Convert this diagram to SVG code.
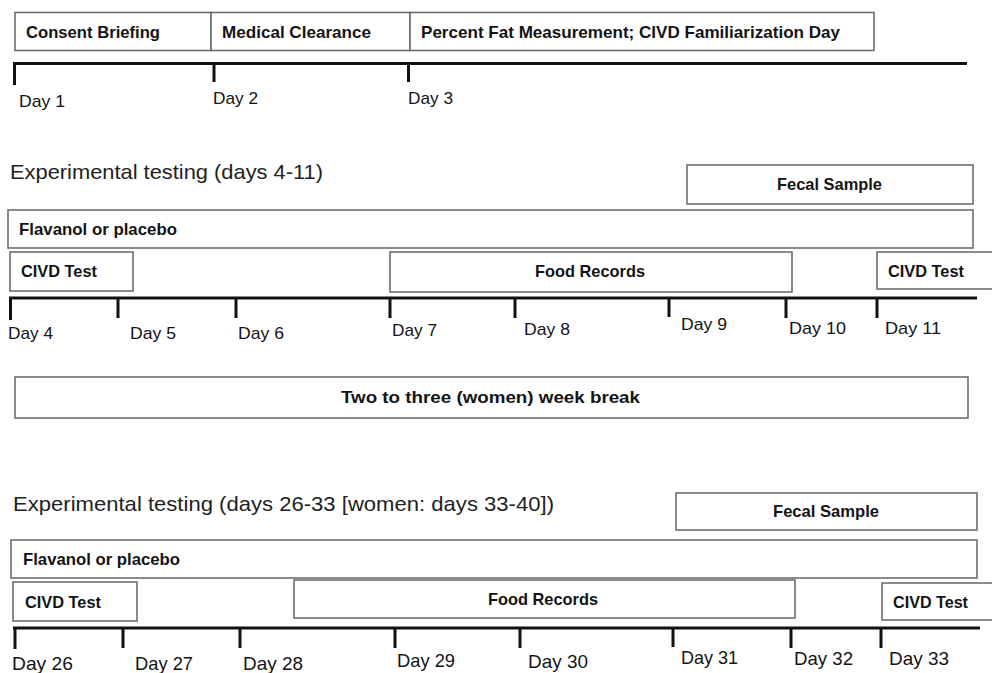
<svg xmlns="http://www.w3.org/2000/svg" width="992" height="673" viewBox="0 0 992 673">
<style>
  .box{fill:#fff;stroke:#6e6e6e;stroke-width:1.6}
  .lbl{font-family:"Liberation Sans",Arial,sans-serif;font-weight:bold;font-size:17px;fill:#141414}
  .day{font-family:"Liberation Sans",Arial,sans-serif;font-size:17px;fill:#141414}
  .day3{font-family:"Liberation Sans",Arial,sans-serif;font-size:19px;fill:#141414}
  .head{font-family:"Liberation Sans",Arial,sans-serif;font-size:21px;fill:#222}
  .axis{stroke:#111;stroke-width:3.2;fill:none}
  .tick{stroke:#111;stroke-width:3;fill:none}
</style>
<rect x="0" y="0" width="992" height="673" fill="#fff"/>

<!-- Section 1 -->
<g id="consent-briefing"><rect class="box" x="15" y="12.5" width="196" height="38"/><text class="lbl" x="26" y="38" textLength="134" lengthAdjust="spacingAndGlyphs">Consent Briefing</text></g>
<g id="medical-clearance"><rect class="box" x="211" y="12.5" width="199" height="38"/><text class="lbl" x="222" y="38" textLength="149" lengthAdjust="spacingAndGlyphs">Medical Clearance</text></g>
<g id="percent-fat"><rect class="box" x="410" y="12.5" width="464" height="38"/><text class="lbl" x="421" y="38" textLength="419" lengthAdjust="spacingAndGlyphs">Percent Fat Measurement; CIVD Familiarization Day</text></g>

<!-- Section 2 -->
<g id="heading-1"><text class="head" x="10" y="179" textLength="313" lengthAdjust="spacingAndGlyphs">Experimental testing (days 4-11)</text></g>
<g id="fecal-1"><rect class="box" x="687" y="165" width="286" height="39"/><text class="lbl" x="777" y="190" textLength="105" lengthAdjust="spacingAndGlyphs">Fecal Sample</text></g>
<g id="flavanol-1"><rect class="box" x="8" y="210" width="965" height="38"/><text class="lbl" x="19" y="235" textLength="158" lengthAdjust="spacingAndGlyphs">Flavanol or placebo</text></g>
<g id="civd-1a"><rect class="box" x="10" y="252" width="123" height="39"/><text class="lbl" x="21" y="277" textLength="76" lengthAdjust="spacingAndGlyphs">CIVD Test</text></g>
<g id="food-1"><rect class="box" x="390" y="252" width="402" height="40"/><text class="lbl" x="535" y="277" textLength="110" lengthAdjust="spacingAndGlyphs">Food Records</text></g>
<g id="civd-1b"><rect class="box" x="877" y="252" width="120" height="37"/><text class="lbl" x="888" y="277" textLength="76" lengthAdjust="spacingAndGlyphs">CIVD Test</text></g>

<!-- Break -->
<g id="break"><rect class="box" x="15" y="377" width="953" height="41"/><text class="lbl" x="341" y="403" textLength="299" lengthAdjust="spacingAndGlyphs">Two to three (women) week break</text></g>

<!-- Section 3 -->
<g id="heading-2"><text class="head" x="13" y="511" textLength="541" lengthAdjust="spacingAndGlyphs">Experimental testing (days 26-33 [women: days 33-40])</text></g>
<g id="fecal-2"><rect class="box" x="676" y="493" width="301" height="37"/><text class="lbl" x="773" y="517" textLength="106" lengthAdjust="spacingAndGlyphs">Fecal Sample</text></g>
<g id="flavanol-2"><rect class="box" x="11" y="540" width="966" height="38"/><text class="lbl" x="23" y="565" textLength="157" lengthAdjust="spacingAndGlyphs">Flavanol or placebo</text></g>
<g id="civd-2a"><rect class="box" x="13" y="582" width="124" height="39"/><text class="lbl" x="25" y="608" textLength="76" lengthAdjust="spacingAndGlyphs">CIVD Test</text></g>
<g id="food-2"><rect class="box" x="294" y="580" width="501" height="38"/><text class="lbl" x="488" y="605" textLength="110" lengthAdjust="spacingAndGlyphs">Food Records</text></g>
<g id="civd-2b"><rect class="box" x="882" y="583" width="115" height="37"/><text class="lbl" x="893" y="608" textLength="75" lengthAdjust="spacingAndGlyphs">CIVD Test</text></g>

<!-- Timelines -->
<g id="connectors">
  <line class="axis" x1="13" y1="63.5" x2="967" y2="63.5"/>
  <line class="tick" x1="14.5" y1="62" x2="14.5" y2="85"/>
  <line class="tick" x1="214" y1="62" x2="214" y2="82"/>
  <line class="tick" x1="408.5" y1="62" x2="408.5" y2="82"/>

  <line class="axis" x1="9" y1="298" x2="977" y2="298"/>
  <line class="tick" x1="10.5" y1="297" x2="10.5" y2="320"/>
  <line class="tick" x1="118" y1="297" x2="118" y2="318"/>
  <line class="tick" x1="236" y1="297" x2="236" y2="318"/>
  <line class="tick" x1="390" y1="297" x2="390" y2="318"/>
  <line class="tick" x1="515" y1="297" x2="515" y2="318"/>
  <line class="tick" x1="669" y1="297" x2="669" y2="317"/>
  <line class="tick" x1="786" y1="297" x2="786" y2="318"/>
  <line class="tick" x1="877" y1="297" x2="877" y2="318"/>

  <line class="axis" x1="13" y1="628" x2="980" y2="628"/>
  <line class="tick" x1="15" y1="627" x2="15" y2="649"/>
  <line class="tick" x1="123" y1="627" x2="123" y2="648"/>
  <line class="tick" x1="240" y1="627" x2="240" y2="648"/>
  <line class="tick" x1="395" y1="627" x2="395" y2="648"/>
  <line class="tick" x1="520" y1="627" x2="520" y2="648"/>
  <line class="tick" x1="673" y1="627" x2="673" y2="647"/>
  <line class="tick" x1="791" y1="627" x2="791" y2="648"/>
  <line class="tick" x1="881" y1="627" x2="881" y2="648"/>
</g>

<!-- Day labels -->
<g id="days-1">
  <text class="day" x="19" y="107" textLength="46" lengthAdjust="spacingAndGlyphs">Day 1</text>
  <text class="day" x="213" y="104" textLength="45" lengthAdjust="spacingAndGlyphs">Day 2</text>
  <text class="day" x="408" y="104" textLength="45" lengthAdjust="spacingAndGlyphs">Day 3</text>
</g>
<g id="days-2">
  <text class="day" x="8" y="339" textLength="45" lengthAdjust="spacingAndGlyphs">Day 4</text>
  <text class="day" x="130" y="339" textLength="46" lengthAdjust="spacingAndGlyphs">Day 5</text>
  <text class="day" x="238" y="339" textLength="46" lengthAdjust="spacingAndGlyphs">Day 6</text>
  <text class="day" x="392" y="336" textLength="45" lengthAdjust="spacingAndGlyphs">Day 7</text>
  <text class="day" x="524" y="335" textLength="46" lengthAdjust="spacingAndGlyphs">Day 8</text>
  <text class="day" x="681" y="330" textLength="46" lengthAdjust="spacingAndGlyphs">Day 9</text>
  <text class="day" x="789" y="334" textLength="57" lengthAdjust="spacingAndGlyphs">Day 10</text>
  <text class="day" x="885" y="334" textLength="56" lengthAdjust="spacingAndGlyphs">Day 11</text>
</g>
<g id="days-3">
  <text class="day3" x="12" y="670" textLength="61" lengthAdjust="spacingAndGlyphs">Day 26</text>
  <text class="day3" x="135" y="670" textLength="58" lengthAdjust="spacingAndGlyphs">Day 27</text>
  <text class="day3" x="243" y="670" textLength="60" lengthAdjust="spacingAndGlyphs">Day 28</text>
  <text class="day3" x="397" y="667" textLength="58" lengthAdjust="spacingAndGlyphs">Day 29</text>
  <text class="day3" x="528" y="668" textLength="60" lengthAdjust="spacingAndGlyphs">Day 30</text>
  <text class="day3" x="681" y="664" textLength="57" lengthAdjust="spacingAndGlyphs">Day 31</text>
  <text class="day3" x="794" y="665" textLength="59" lengthAdjust="spacingAndGlyphs">Day 32</text>
  <text class="day3" x="889" y="665" textLength="60" lengthAdjust="spacingAndGlyphs">Day 33</text>
</g>
</svg>
